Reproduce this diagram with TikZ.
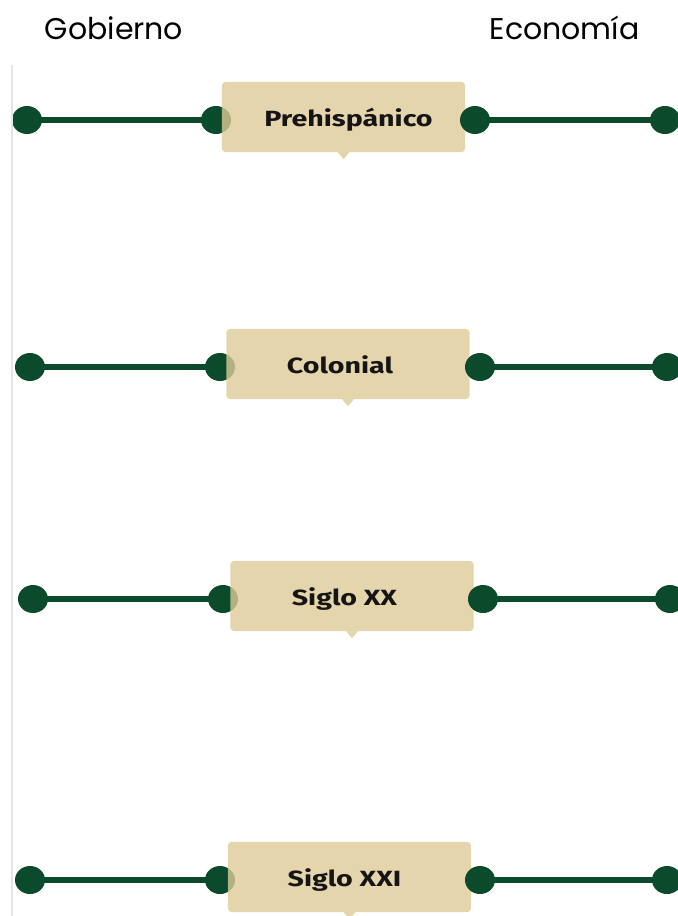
\documentclass[tikz,border=0pt]{standalone}
\usepackage{fontspec}
\setmainfont{Fira Sans}
\newfontfamily\labfont[FakeStretch=1.3]{Fira Sans}
\newfontfamily\headfont{Poppins}
\usetikzlibrary{shapes.geometric}
\definecolor{dotgreen}{HTML}{0B4A2A}
\definecolor{boxbeige}{HTML}{DECB98}
\definecolor{axisgray}{HTML}{E6E6E6}
\definecolor{txt}{HTML}{151515}
\pgfdeclarelayer{bottom}
\pgfdeclarelayer{middle}
\pgfsetlayers{bottom,middle,main}
\tikzset{
  dot/.style={ellipse, fill=dotgreen, minimum width=30bp, minimum height=28bp, inner sep=0pt},
  link/.style={draw=dotgreen, line width=6bp, shorten <=-4bp, shorten >=-4bp},
  erabox/.style={minimum width=243bp, minimum height=70bp, inner sep=0pt},
  erafill/.style={fill=boxbeige, fill opacity=0.8},
  eratext/.style={anchor=base, inner sep=0pt, text=txt, font=\labfont\fontsize{22bp}{24bp}\selectfont\bfseries},
  head/.style={font=\headfont\fontsize{30bp}{32bp}\selectfont, text=black, inner sep=0pt},
  axis/.style={draw=axisgray, line width=1.5bp}
}
\begin{document}
\begin{tikzpicture}[x=1bp,y=-1bp]
\useasboundingbox (0,0) rectangle (678,916);
\coordinate (axtop) at (12,65);
\coordinate (axbot) at (12,916);
\draw[axis] (axtop) -- (axbot);
\node[head] (gob) at (114,28) {Gobierno};
\node[head] (eco) at (564.5,28) {Economía};
\foreach \n/\y/\a/\b/\bx/\tx/\c/\d/\t in {
  1/120/27/216/343.5/348.5/475/665/Prehispánico,
  2/367/30/220/348/340/480/667/Colonial,
  3/599/33/223/352/344.5/483/670/Siglo XX,
  4/880/30/220/349.5/344.5/480/667/Siglo XXI}{
  \begin{pgfonlayer}{bottom}
    \node[dot] (r\n a) at (\a,\y) {};
    \node[dot] (r\n b) at (\b,\y) {};
    \draw[link] (r\n a) -- (r\n b);
  \end{pgfonlayer}
  \node[erabox] (box\n) at (\bx,\y-3) {};
  \begin{pgfonlayer}{middle}
    \fill[erafill] ([xshift=-6bp]box\n.south) [rounded corners=4bp] -- (box\n.south west) -- (box\n.north west) -- (box\n.north east) -- (box\n.south east) [sharp corners] -- ([xshift=6bp]box\n.south) -- ([yshift=-7bp]box\n.south) -- cycle;
  \end{pgfonlayer}
  \node[eratext] (lab\n) at (\tx,\y+6) {\t};
  \node[dot] (r\n c) at (\c,\y) {};
  \node[dot] (r\n d) at (\d,\y) {};
  \draw[link] (r\n c) -- (r\n d);
}
\end{tikzpicture}
\end{document}
